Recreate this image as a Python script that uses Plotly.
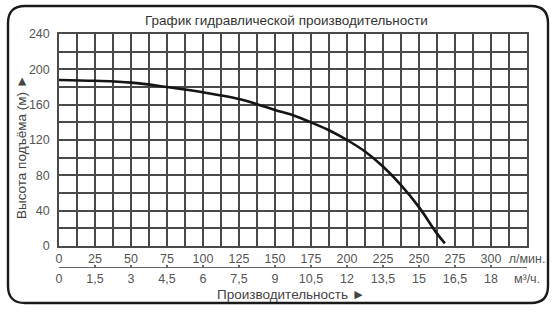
import plotly.graph_objects as go

# ---- data ----
flow_lpm = [0, 25, 50, 75, 100, 125, 137.5, 150, 162.5, 175, 187.5, 200, 212.5, 225, 237.5, 250, 262.5, 268]
head_m = [188, 187, 185, 180, 174, 166.5, 160.5, 154, 148, 140, 131, 120, 107, 90, 69, 44, 14, 3]

x_grid = [i * 12.5 for i in range(27)]          # 0 .. 325 l/min
x_labels = [str(int(v)) if (v % 25 == 0 and v <= 300) else "" for v in x_grid]
x_labels[-1] = "л/мин."

m3h_vals = [0, 1.5, 3, 4.5, 6, 7.5, 9, 10.5, 12, 13.5, 15, 16.5, 18, 19.5]
m3h_labels = ["0", "1,5", "3", "4,5", "6", "7,5", "9", "10,5", "12", "13,5", "15", "16,5", "18", "м³/ч."]

y_grid = [i * 20 for i in range(13)]            # 0 .. 240 m
y_labels = [str(v) if v % 40 == 0 else "" for v in y_grid]

title_text = "График гидравлической производительности"
y_title = "Высота подъёма (м) ►"
x_title = "Производительность ►"

# ---- layout geometry (pixels) ----
W, H = 558, 318
L, R = 59, 527          # plot area left/right
T, B = 34, 246          # plot area top/bottom
AX2 = 267               # second axis line
pw = R - L
ph = AX2 - T

def px(x):
    return (x - L) / pw

def py(y):
    return (AX2 - y) / ph

GRID = "#4a4a4a"
TXT = "#555555"
FONT = "Liberation Sans, Arial, sans-serif"

fig = go.Figure()
fig.add_trace(go.Scatter(
    x=flow_lpm, y=head_m, mode="lines",
    line=dict(color="#151515", width=2.6, shape="spline", smoothing=1.0),
    showlegend=False, hoverinfo="skip"))
# dummy trace for second axis
fig.add_trace(go.Scatter(x=[0, 19.5], y=[0, 0], xaxis="x2", mode="lines",
                         line=dict(width=0), showlegend=False, hoverinfo="skip"))

fig.update_layout(
    width=W, height=H,
    margin=dict(l=L, r=W - R, t=T, b=H - AX2, pad=0),
    paper_bgcolor="white", plot_bgcolor="white",
    font=dict(family=FONT, size=12.5, color=TXT),
    xaxis=dict(range=[0, 325], tickmode="array", tickvals=x_grid, ticktext=x_labels,
               showgrid=True, gridcolor=GRID, gridwidth=1.5, zeroline=False,
               showline=True, linecolor=GRID, linewidth=1.5, mirror=True,
               ticks="", ticklabelstandoff=0, anchor="y",
               tickfont=dict(size=12.5, color=TXT)),
    xaxis2=dict(range=[0, 19.5], tickmode="array", tickvals=m3h_vals, ticktext=m3h_labels,
                overlaying="x", anchor="free", position=0, side="bottom",
                showgrid=False, zeroline=False, showline=True, linecolor="#666666",
                linewidth=1.3, ticks="inside", ticklen=2, tickwidth=2, tickcolor="#666666",
                ticklabelstandoff=0,
                tickfont=dict(size=12.5, color=TXT)),
    yaxis=dict(range=[0, 240], tickmode="array", tickvals=y_grid, ticktext=y_labels,
               domain=[(AX2 - B) / ph, 1],
               showgrid=True, gridcolor=GRID, gridwidth=1.5, zeroline=False,
               showline=True, linecolor=GRID, linewidth=1.5, mirror=True,
               ticks="", ticklabelstandoff=5,
               tickfont=dict(size=12.5, color=TXT)),
)

fig.add_annotation(text=title_text, xref="paper", yref="paper", x=px(286), y=py(20.5),
                   showarrow=False, font=dict(size=13.5, color="#333333", family=FONT),
                   xanchor="center", yanchor="middle")
fig.add_annotation(text=y_title, xref="paper", yref="paper", x=px(21.5), y=py(147.5),
                   showarrow=False, textangle=-90, font=dict(size=13.5, color="#444444", family=FONT),
                   xanchor="center", yanchor="middle")
fig.add_annotation(text=x_title, xref="paper", yref="paper", x=px(291), y=py(294),
                   showarrow=False, font=dict(size=13.5, color="#444444", family=FONT),
                   xanchor="center", yanchor="middle")

# rounded frame
fl, fr, ft, fb, r = 8, 548, 6, 303, 17
path = (f"M {px(fl + r)},{py(ft)} L {px(fr - r)},{py(ft)} "
        f"Q {px(fr)},{py(ft)} {px(fr)},{py(ft + r)} "
        f"L {px(fr)},{py(fb - r)} Q {px(fr)},{py(fb)} {px(fr - r)},{py(fb)} "
        f"L {px(fl + r)},{py(fb)} Q {px(fl)},{py(fb)} {px(fl)},{py(fb - r)} "
        f"L {px(fl)},{py(ft + r)} Q {px(fl)},{py(ft)} {px(fl + r)},{py(ft)} Z")
fig.add_shape(type="path", path=path, xref="paper", yref="paper",
              line=dict(color="#1a1a1a", width=2.4), layer="below")

fig.write_html("out.html")
